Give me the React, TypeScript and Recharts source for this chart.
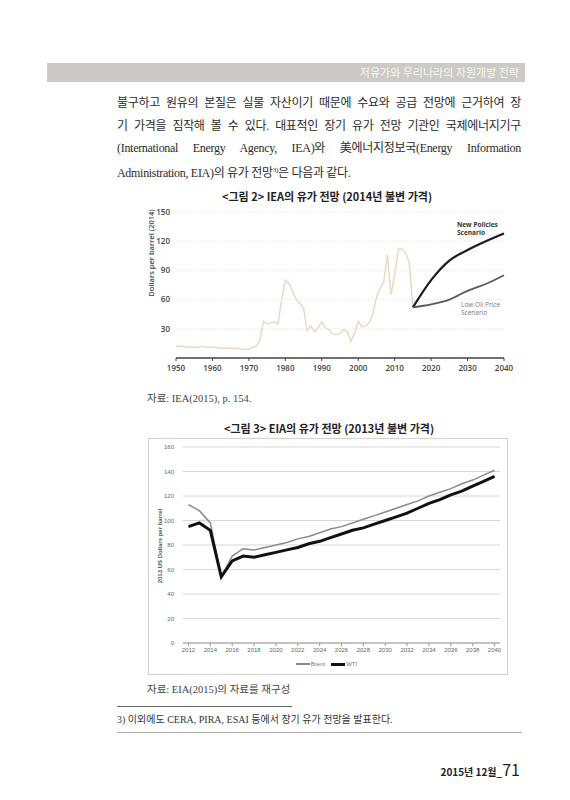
import React from 'react';
import { LineChart, Line, XAxis, YAxis, CartesianGrid, Legend } from 'recharts';

// <그림 2> IEA 과거 유가 (2014년 불변 달러)
const histYears = [
  1950, 1951, 1952, 1953, 1954, 1955, 1956, 1957, 1958, 1959,
  1960, 1961, 1962, 1963, 1964, 1965, 1966, 1967, 1968, 1969,
  1970, 1971, 1972, 1973, 1974, 1975, 1976, 1977, 1978, 1979,
  1980, 1981, 1982, 1983, 1984, 1985, 1986, 1987, 1988, 1989,
  1990, 1991, 1992, 1993, 1994, 1995, 1996, 1997, 1998, 1999,
  2000, 2001, 2002, 2003, 2004, 2005, 2006, 2007, 2008, 2009,
  2010, 2011, 2012, 2013, 2014, 2015,
];
const histPrice = [
  12, 12, 12, 11, 11, 11, 11, 12, 11, 11,
  11, 11, 10, 10, 10, 10, 10, 10, 9, 9,
  9, 11, 12, 18, 38, 35, 36, 37, 35, 60,
  80, 77, 68, 60, 56, 51, 28, 33, 27, 31,
  37, 31, 29, 25, 24, 25, 29, 27, 17, 25,
  38, 32, 33, 36, 46, 62, 72, 78, 106, 65,
  85, 112, 112, 108, 98, 52,
];

// IEA 전망 시나리오
const scenarioYears = [2015, 2020, 2025, 2030, 2035, 2040];
const newPolicies = [52, 80, 100, 111, 120, 128];
const lowOilPrice = [52, 55, 60, 69, 76, 85];

const ieaXTicks = [1950, 1960, 1970, 1980, 1990, 2000, 2010, 2020, 2030, 2040];
const ieaYTicks = [30, 60, 90, 120, 150];

// <그림 3> EIA 전망 (2013년 불변 달러)
const eiaYears = [
  '2012', '2013', '2014', '2015', '2016', '2017', '2018', '2019', '2020', '2021',
  '2022', '2023', '2024', '2025', '2026', '2027', '2028', '2029', '2030', '2031',
  '2032', '2033', '2034', '2035', '2036', '2037', '2038', '2039', '2040',
];
const brent = [
  113, 108, 98, 54, 71, 77, 76, 78, 80, 82,
  85, 87, 90, 93, 95, 98, 101, 104, 107, 110,
  113, 116, 120, 123, 126, 130, 133, 137, 141,
];
const wti = [
  95, 98, 92, 54, 67, 71, 70, 72, 74, 76,
  78, 81, 83, 86, 89, 92, 94, 97, 100, 103,
  106, 110, 114, 117, 121, 124, 128, 132, 136,
];
const eiaYTicks = [0, 20, 40, 60, 80, 100, 120, 140, 160];

const histData = histYears.map((year, i) => ({ year, price: histPrice[i] }));
const scenarioData = scenarioYears.map((year, i) => ({
  year,
  newPolicies: newPolicies[i],
  lowOil: lowOilPrice[i],
}));
const eiaData = eiaYears.map((year, i) => ({ year, brent: brent[i], wti: wti[i] }));

const SERIF = '"Liberation Serif", "Noto Sans CJK KR", serif';
const GOTHIC = '"Noto Sans CJK KR", "Noto Sans", sans-serif';
const CHART_FONT = '"Open Sans", "Noto Sans", sans-serif';

const bodyLine = (top: number): React.CSSProperties => ({
  position: 'absolute',
  left: 117,
  top,
  width: 404,
  height: 18,
  lineHeight: '18px',
  fontSize: 12,
  letterSpacing: -0.3,
  fontFamily: SERIF,
  color: '#2b2b2b',
  textAlign: 'justify',
  textAlignLast: 'justify',
  whiteSpace: 'nowrap',
});

function EiaLegend() {
  return (
    <div
      style={{
        display: 'flex',
        justifyContent: 'center',
        alignItems: 'center',
        gap: 6,
        fontSize: 6,
        color: '#777',
        fontFamily: '"Liberation Sans", Arial, sans-serif',
        height: 14,
      }}
    >
      <span style={{ display: 'flex', alignItems: 'center' }}>
        <span style={{ display: 'inline-block', width: 14, height: 1.5, background: '#8a8a8a', marginRight: 1 }} />
        Brent
      </span>
      <span style={{ display: 'flex', alignItems: 'center' }}>
        <span style={{ display: 'inline-block', width: 14, height: 3, background: '#111', marginRight: 1 }} />
        WTI
      </span>
    </div>
  );
}

export default function App() {
  return (
    <div style={{ position: 'absolute', left: 0, top: 0, width: 570, height: 800, background: '#fff', overflow: 'hidden' }}>
      {/* 머리 띠 */}
      <div
        style={{
          position: 'absolute',
          left: 47,
          top: 63,
          width: 478,
          height: 19,
          background: '#cbcac6',
          color: '#f6f6f4',
          fontFamily: GOTHIC,
          fontSize: 11,
          lineHeight: '19px',
          textAlign: 'right',
          paddingRight: 6,
          boxSizing: 'border-box',
        }}
      >
        저유가와 우리나라의 자원개발 전략
      </div>

      {/* 본문 */}
      <div style={bodyLine(94)}>불구하고 원유의 본질은 실물 자산이기 때문에 수요와 공급 전망에 근거하여 장</div>
      <div style={bodyLine(117)}>기 가격을 짐작해 볼 수 있다. 대표적인 장기 유가 전망 기관인 국제에너지기구</div>
      <div style={bodyLine(139)}>
        (International Energy Agency, IEA)와 <span style={{ display: 'inline-block' }}>美에너지정보국(Energy</span> Information
      </div>
      <div style={{ ...bodyLine(161), textAlign: 'left', textAlignLast: 'left' }}>
        Administration, EIA)의 유가 전망<sup style={{ fontSize: 7 }}>3)</sup>은 다음과 같다.
      </div>

      {/* 그림 2 */}
      <div
        style={{
          position: 'absolute',
          left: 127,
          top: 188,
          width: 400,
          textAlign: 'center',
          fontFamily: GOTHIC,
          fontWeight: 700,
          fontSize: 11,
          color: '#222',
        }}
      >
        &lt;그림 2&gt; IEA의 유가 전망 (2014년 불변 가격)
      </div>
      <div style={{ position: 'absolute', left: 140, top: 200, width: 380, height: 180 }}>
        <LineChart width={380} height={180} margin={{ top: 12, right: 16, bottom: 2, left: 6 }}>
          <CartesianGrid horizontal vertical={false} stroke="#e4dfd8" strokeDasharray="1 2" />
          <XAxis
            type="number"
            dataKey="year"
            domain={[1950, 2040]}
            ticks={ieaXTicks}
            allowDuplicatedCategory={false}
            height={20}
            axisLine={{ stroke: '#444', strokeWidth: 1.5 }}
            tickLine={{ stroke: '#444' }}
            tickSize={3}
            tickMargin={4}
            tick={{ fontSize: 8, fill: '#444', fontFamily: CHART_FONT, fontWeight: 600 }}
          />
          <YAxis
            type="number"
            domain={[0, 150]}
            ticks={ieaYTicks}
            width={30}
            axisLine={false}
            tickLine={false}
            tickSize={0}
            tickMargin={6}
            tick={{ fontSize: 8, fill: '#444', fontFamily: CHART_FONT, fontWeight: 600 }}
          />
          <Line
            data={histData}
            dataKey="price"
            type="linear"
            stroke="#ecd8c4"
            strokeWidth={1.5}
            dot={false}
            isAnimationActive={false}
          />
          <Line
            data={scenarioData}
            dataKey="newPolicies"
            type="monotone"
            stroke="#1c1c1c"
            strokeWidth={2.2}
            dot={false}
            isAnimationActive={false}
          />
          <Line
            data={scenarioData}
            dataKey="lowOil"
            type="monotone"
            stroke="#5a5a5a"
            strokeWidth={1.8}
            dot={false}
            isAnimationActive={false}
          />
        </LineChart>
        <div
          style={{
            position: 'absolute',
            left: 3,
            top: 53,
            transform: 'translate(-50%, -50%) rotate(-90deg)',
            whiteSpace: 'nowrap',
            fontFamily: CHART_FONT,
            fontWeight: 600,
            fontSize: 7.5,
            color: '#444',
            marginLeft: 8,
          }}
        >
          Dollars per barrel (2014)
        </div>
        <div
          style={{
            position: 'absolute',
            left: 317,
            top: 21,
            fontFamily: CHART_FONT,
            fontWeight: 700,
            fontSize: 6.5,
            lineHeight: '8px',
            color: '#333',
          }}
        >
          New Policies
          <br />
          Scenario
        </div>
        <div
          style={{
            position: 'absolute',
            left: 321,
            top: 101,
            fontFamily: CHART_FONT,
            fontSize: 6.5,
            lineHeight: '8px',
            color: '#777',
          }}
        >
          Low Oil Price
          <br />
          Scenario
        </div>
      </div>
      <div style={{ position: 'absolute', left: 147, top: 390, fontFamily: SERIF, fontSize: 10.5, color: '#444' }}>
        자료: IEA(2015), p. 154.
      </div>

      {/* 그림 3 */}
      <div
        style={{
          position: 'absolute',
          left: 129,
          top: 420,
          width: 400,
          textAlign: 'center',
          fontFamily: GOTHIC,
          fontWeight: 700,
          fontSize: 11,
          color: '#222',
        }}
      >
        &lt;그림 3&gt; EIA의 유가 전망 (2013년 불변 가격)
      </div>
      <div
        style={{
          position: 'absolute',
          left: 148,
          top: 438,
          width: 360,
          height: 237,
          border: '1px solid #d2d2d2',
          boxSizing: 'border-box',
        }}
      />
      <div style={{ position: 'absolute', left: 148, top: 438, width: 360, height: 237 }}>
        <LineChart width={360} height={237} data={eiaData} margin={{ top: 9, right: 8, bottom: 4, left: 5 }}>
          <CartesianGrid horizontal vertical={false} stroke="#d6d6d6" />
          <XAxis
            dataKey="year"
            scale="band"
            interval={1}
            height={14}
            axisLine={{ stroke: '#999' }}
            tickLine={{ stroke: '#999' }}
            tickSize={3}
            tickMargin={2}
            tick={{ fontSize: 6, fill: '#666', fontFamily: '"Liberation Sans", Arial, sans-serif' }}
          />
          <YAxis
            type="number"
            domain={[0, 160]}
            ticks={eiaYTicks}
            width={30}
            axisLine={false}
            tickLine={false}
            tickSize={0}
            tickMargin={9}
            tick={{ fontSize: 6, fill: '#666', fontFamily: '"Liberation Sans", Arial, sans-serif' }}
          />
          <Legend verticalAlign="bottom" height={14} content={() => <EiaLegend />} />
          <Line
            dataKey="brent"
            name="Brent"
            type="linear"
            stroke="#8a8a8a"
            strokeWidth={1.5}
            dot={false}
            isAnimationActive={false}
          />
          <Line
            dataKey="wti"
            name="WTI"
            type="linear"
            stroke="#111"
            strokeWidth={3}
            dot={false}
            isAnimationActive={false}
          />
        </LineChart>
        <div
          style={{
            position: 'absolute',
            left: 12,
            top: 108,
            transform: 'translate(-50%, -50%) rotate(-90deg)',
            whiteSpace: 'nowrap',
            fontFamily: '"Liberation Sans", Arial, sans-serif',
            fontWeight: 700,
            fontSize: 6,
            color: '#555',
          }}
        >
          2013 US Dollars per barrel
        </div>
      </div>
      <div style={{ position: 'absolute', left: 147, top: 681, fontFamily: SERIF, fontSize: 10.5, color: '#444' }}>
        자료: EIA(2015)의 자료를 재구성
      </div>

      {/* 각주 */}
      <div style={{ position: 'absolute', left: 117, top: 706, width: 175, height: 1, background: '#666' }} />
      <div style={{ position: 'absolute', left: 117, top: 711, fontFamily: SERIF, fontSize: 10, color: '#333' }}>
        3) 이외에도 CERA, PIRA, ESAI 등에서 장기 유가 전망을 발표한다.
      </div>
      <div style={{ position: 'absolute', left: 117, top: 732, width: 405, height: 1, background: '#aaa' }} />

      {/* 쪽 번호 */}
      <div
        style={{
          position: 'absolute',
          right: 50,
          top: 757,
          fontFamily: GOTHIC,
          fontWeight: 700,
          fontSize: 10,
          color: '#222',
          whiteSpace: 'nowrap',
        }}
      >
        2015년 12월_<span style={{ fontSize: 16, fontWeight: 400 }}>71</span>
      </div>
    </div>
  );
}
